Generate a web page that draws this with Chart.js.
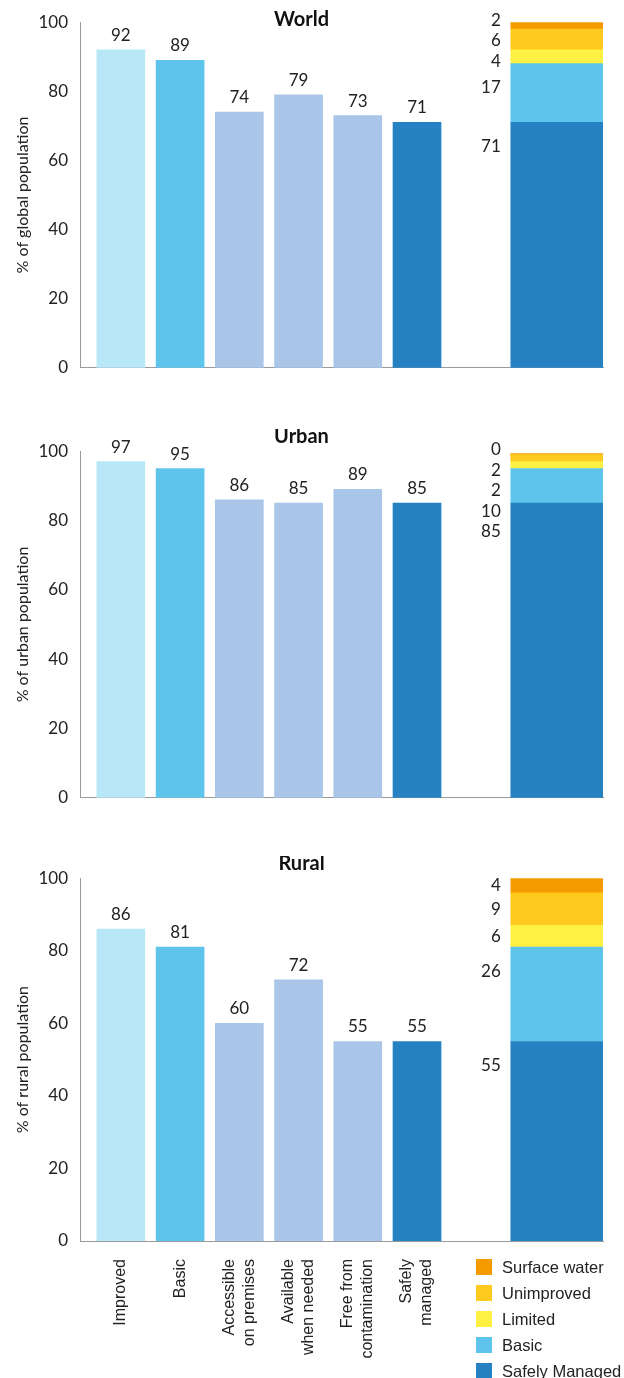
<!DOCTYPE html>
<html>
<head>
<meta charset="utf-8">
<script src="https://cdn.jsdelivr.net/npm/chart.js@4"></script>
<style>
  body { margin: 0; background: #fff; }
  #page { position: relative; width: 624px; height: 1378px; }
  #page canvas { position: absolute; left: 0; }
  #legend { position: absolute; left: 476px; top: 1254px; font: 16.5px "Liberation Sans", Arial, sans-serif; color: #222; }
  #legend div { height: 26px; display: flex; align-items: center; }
  #legend span { display: inline-block; width: 16px; height: 16px; margin-right: 10px; }
</style>
</head>
<body>
<div id="page">
  <canvas id="world" width="608" height="390" style="top:0px"></canvas>
  <canvas id="urban" width="608" height="391" style="top:429px"></canvas>
  <canvas id="rural" width="608" height="522" style="top:856px"></canvas>
  <div id="legend"></div>
</div>
<script>
// service levels shown as separate bars
let categories = ["Improved", "Basic", ["Accessible", "on premises"], ["Available", "when needed"], ["Free from", "contamination"], ["Safely", "managed"]];
let worldValues = [92, 89, 74, 79, 73, 71];
let urbanValues = [97, 95, 86, 85, 89, 85];
let ruralValues = [86, 81, 60, 72, 55, 55];

// drinking water ladder, bottom rung first
let ladderNames = ["Safely Managed", "Basic", "Limited", "Unimproved", "Surface water"];
let worldLadder = [71, 17, 4, 6, 2];
let urbanLadder = [85, 10, 2, 2, 0];
let ruralLadder = [55, 26, 6, 9, 4];

let yTicks = [0, 20, 40, 60, 80, 100];

let barColors = ["#b8e7f8", "#5fc4ec", "#a9c6e8", "#a9c6e8", "#a9c6e8", "#2681c2"];
let ladderColors = ["#2681c2", "#5fc4ec", "#fff143", "#ffca1e", "#f59b00"];

// x positions (in bar slots) for the ladder column and the axis range
const LADDER_X = 7.36;
const X_MIN = -0.69, X_MAX = 8.14;
// two-line labels are drawn from the tick rightwards, so pull them back a little
const TWO_LINE_SHIFT = 0.17;

const numFont = { family: "Lato, sans-serif", size: 17 };
const dotted = { display: true, color: "#9a9a9a", dash: [1, 2], width: 1 };

// value labels above the bars and beside the ladder segments
const barLabels = {
  id: "barLabels",
  afterDatasetsDraw(chart) {
    const ctx = chart.ctx;
    ctx.save();
    ctx.font = "17px Lato, sans-serif";
    ctx.fillStyle = "#222";
    const ladder = [];
    let ladderTop = Infinity;
    chart.data.datasets.forEach((ds, di) => {
      const meta = chart.getDatasetMeta(di);
      if (ds.stack === "cols") {
        ctx.textAlign = "center";
        ctx.textBaseline = "alphabetic";
        meta.data.forEach((bar, i) => {
          ctx.fillText(ds.data[i].y, bar.x, bar.y - 9);
        });
      } else {
        const bar = meta.data[0];
        const top = Math.min(bar.y, bar.base);
        const center = (bar.y + bar.base) / 2;
        ladderTop = Math.min(ladderTop, top);
        ladder.push({ text: ds.data[0].y, x: bar.x - bar.width / 2 - 10, y: Math.min(center, top + 24) });
      }
    });
    // top rung first, then spread labels that sit too close together
    ladder.reverse();
    const gap = 20.5;
    for (let k = 0; k < 60; k++) {
      for (let i = 0; i < ladder.length - 1; i++) {
        const d = ladder[i + 1].y - ladder[i].y;
        if (d < gap) {
          const push = (gap - d) / 2;
          ladder[i].y -= push;
          ladder[i + 1].y += push;
        }
      }
    }
    // keep the first label near the top of the column
    if (ladder[0].y < ladderTop - 4) {
      ladder[0].y = ladderTop - 4;
      for (let i = 1; i < ladder.length; i++) {
        ladder[i].y = Math.max(ladder[i].y, ladder[i - 1].y + gap);
      }
    }
    ctx.textAlign = "right";
    ctx.textBaseline = "middle";
    ladder.forEach(l => ctx.fillText(l.text, l.x, l.y));
    ctx.restore();
  }
};

function makePanel(id, title, yTitle, values, ladder, titlePad, showLabels) {
  const datasets = [{
    stack: "cols",
    data: values.map((v, i) => ({ x: i, y: v })),
    backgroundColor: barColors,
    barThickness: 48,
    grouped: false
  }];
  ladderNames.forEach((name, i) => {
    datasets.push({
      label: name,
      stack: "ladder",
      data: [{ x: LADDER_X, y: ladder[i] }],
      backgroundColor: ladderColors[i],
      barThickness: 92,
      grouped: false,
      minBarLength: i === ladderNames.length - 1 ? 2 : 0
    });
  });

  new Chart(id, {
    type: "bar",
    data: { datasets: datasets },
    plugins: [barLabels],
    options: {
      responsive: false,
      animation: false,
      layout: { padding: { left: 0, right: 5, top: 0, bottom: showLabels ? 0 : 6 } },
      plugins: {
        legend: { display: false },
        tooltip: { enabled: false },
        title: {
          display: true,
          text: title,
          color: "#111",
          font: { family: "Lato, sans-serif", size: 20, weight: "bold", lineHeight: 1.2 },
          padding: titlePad
        }
      },
      scales: {
        x: {
          type: "linear",
          offset: false,
          min: X_MIN,
          max: X_MAX,
          grid: { display: false, drawTicks: false },
          border: dotted,
          afterBuildTicks: s => {
            s.ticks = categories.map((c, i) => ({ value: Array.isArray(c) ? i - TWO_LINE_SHIFT : i }));
          },
          afterFit: s => { s.height = showLabels ? 137 : 0; },
          ticks: {
            display: showLabels,
            autoSkip: false,
            minRotation: 90,
            maxRotation: 90,
            padding: 18,
            color: "#222",
            font: { family: "Liberation Sans, Arial, sans-serif", size: 16, lineHeight: 1.25 },
            callback: (v, i) => categories[i]
          }
        },
        y: {
          stacked: true,
          min: 0,
          max: 100,
          grid: { display: false, drawTicks: false },
          border: dotted,
          afterBuildTicks: s => { s.ticks = yTicks.map(v => ({ value: v })); },
          afterFit: s => { s.width = 80; },
          ticks: { padding: 12, color: "#222", font: numFont },
          title: {
            display: true,
            text: yTitle,
            color: "#222",
            font: { family: "Lato, sans-serif", size: 16 },
            padding: { top: 13, bottom: 0 }
          }
        }
      }
    }
  });
}

makePanel("world", "World", "% of global population", worldValues, worldLadder, { top: 7, bottom: -9 }, false);
makePanel("urban", "Urban", "% of urban population", urbanValues, urbanLadder, { top: -5, bottom: 3 }, false);
makePanel("rural", "Rural", "% of rural population", ruralValues, ruralLadder, { top: -5, bottom: 3 }, true);

// legend, top rung first
const legend = document.getElementById("legend");
for (let i = ladderNames.length - 1; i >= 0; i--) {
  const row = document.createElement("div");
  const sw = document.createElement("span");
  sw.style.background = ladderColors[i];
  row.appendChild(sw);
  row.appendChild(document.createTextNode(ladderNames[i]));
  legend.appendChild(row);
}
</script>
</body>
</html>
